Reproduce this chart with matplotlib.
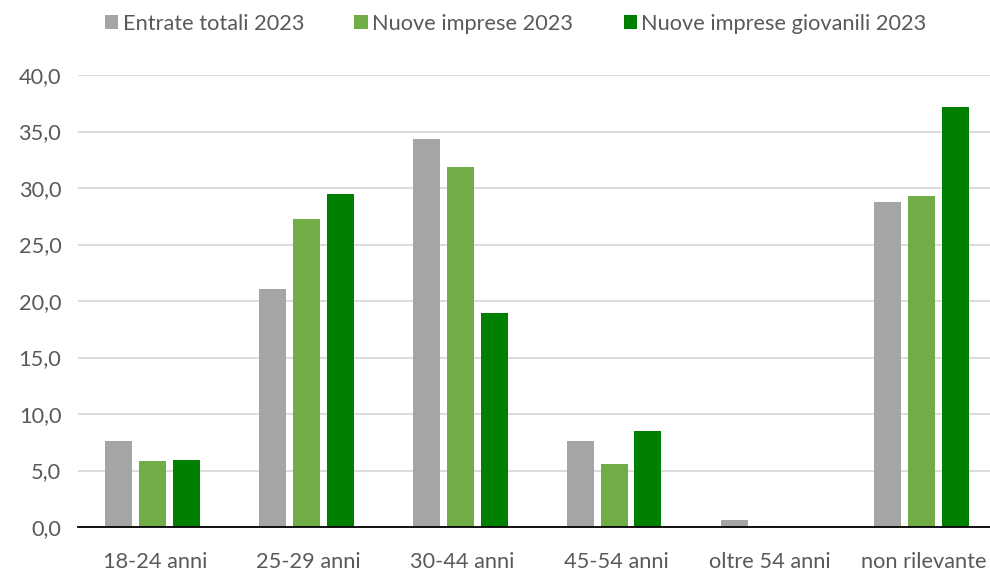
import matplotlib.pyplot as plt
import numpy as np

plt.rcParams['font.family'] = ['Lato', 'DejaVu Sans']

categories = ['18-24 anni', '25-29 anni', '30-44 anni', '45-54 anni', 'oltre 54 anni', 'non rilevante']
entrate_totali = [7.6, 21.1, 34.3, 7.6, 0.6, 28.8]
nuove_imprese = [5.8, 27.3, 31.9, 5.6, 0.1, 29.3]
nuove_giovanili = [5.9, 29.5, 18.9, 8.5, 0.0, 37.2]
series_names = ['Entrate totali 2023', 'Nuove imprese 2023', 'Nuove imprese giovanili 2023']
colors = ['#A5A5A5', '#70AD47', '#008000']

fig = plt.figure(figsize=(9.9, 5.72), dpi=100)
ax = fig.add_axes([78 / 990, 45 / 572, 923 / 990, 452 / 572])

x = np.arange(len(categories))
w = 0.175
step = 0.22
for i, (vals, name, c) in enumerate(zip([entrate_totali, nuove_imprese, nuove_giovanili], series_names, colors)):
    ax.bar(x + (i - 1) * step - 0.015, vals, width=w, color=c, label=name, zorder=3)

ax.set_xlim(-0.5, 5.5)
ax.set_ylim(0, 40)
ax.set_yticks(np.arange(0, 41, 5))
ax.set_yticklabels([f'{v:.1f}'.replace('.', ',') for v in np.arange(0, 41, 5)])
ax.set_xticks(x)
ax.set_xticklabels(categories)
ax.grid(axis='y', color='#D9D9D9', linewidth=1.3, zorder=0)
for s in ['top', 'right', 'left']:
    ax.spines[s].set_visible(False)
ax.spines['bottom'].set_color('black')
ax.spines['bottom'].set_linewidth(1.3)
ax.spines['bottom'].set_zorder(4)
ax.tick_params(axis='both', length=0, labelsize=15.7, colors='#595959')
ax.tick_params(axis='x', pad=18)
ax.tick_params(axis='y', pad=12)

fig.legend(loc='upper center', bbox_to_anchor=(0.521, 1.01), ncol=3, frameon=False,
           fontsize=15.7, labelcolor='#595959', handlelength=0.62, handleheight=0.62,
           handletextpad=0.2, columnspacing=2.3)

fig.savefig('out.png', dpi=100)
